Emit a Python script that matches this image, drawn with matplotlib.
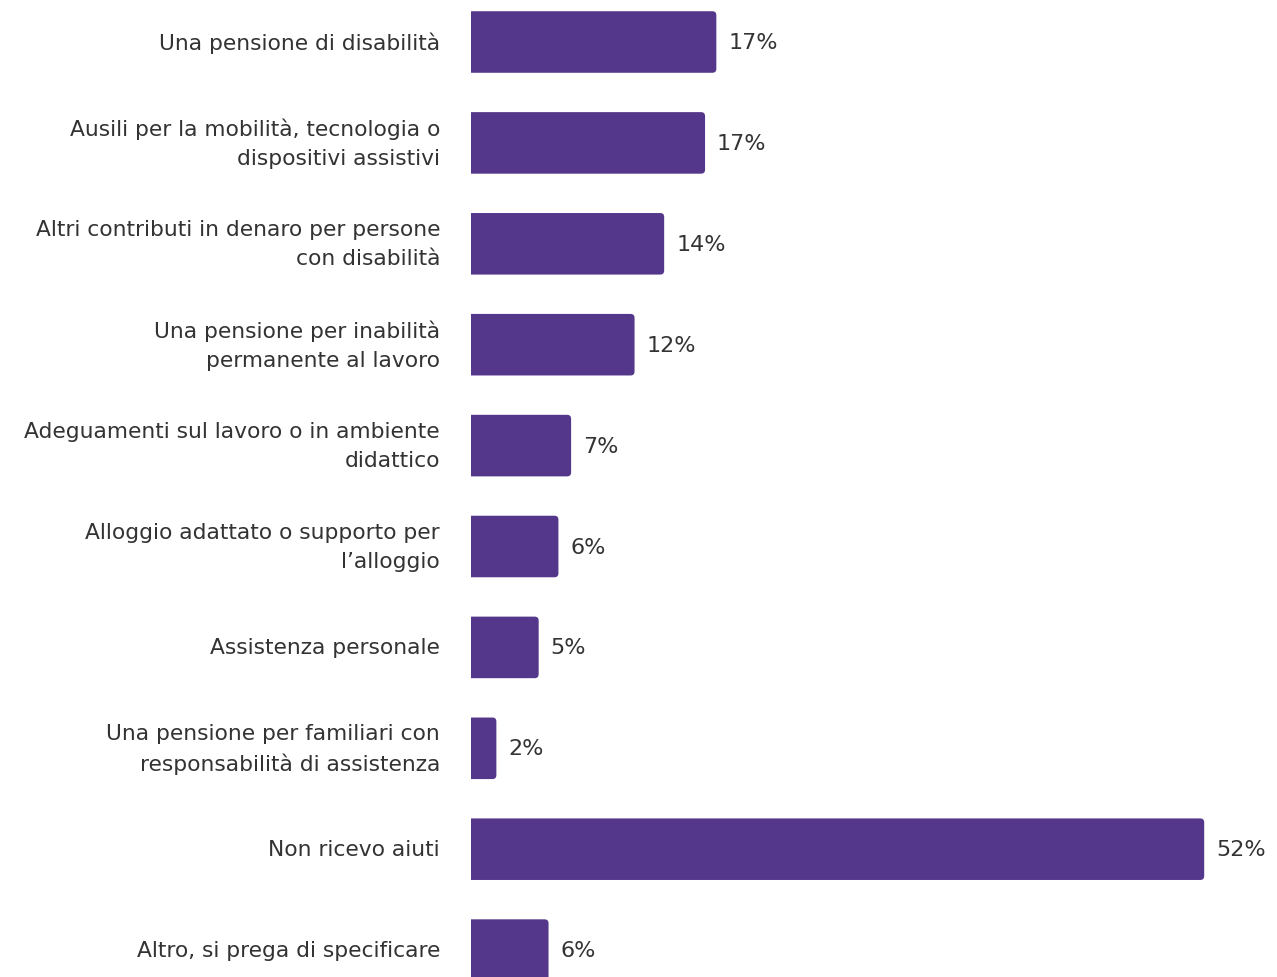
import matplotlib

matplotlib.use("Agg")
import matplotlib.pyplot as plt
from matplotlib.patches import FancyBboxPatch

categories = [
    "Una pensione di disabilità",
    "Ausili per la mobilità, tecnologia o\ndispositivi assistivi",
    "Altri contributi in denaro per persone\ncon disabilità",
    "Una pensione per inabilità\npermanente al lavoro",
    "Adeguamenti sul lavoro o in ambiente\ndidattico",
    "Alloggio adattato o supporto per\nl’alloggio",
    "Assistenza personale",
    "Una pensione per familiari con\nresponsabilità di assistenza",
    "Non ricevo aiuti",
    "Altro, si prega di specificare",
]
values = [17.4, 16.6, 13.7, 11.6, 7.1, 6.2, 4.8, 1.8, 52.0, 5.5]

BAR_COLOR = "#54378A"
TEXT_COLOR = "#333333"
W, H, DPI = 1277, 978, 100
LEFT_PX = 471
PX_PER_UNIT = 14.1
ROW_PX = 100.9
FIRST_ROW_PX = 43

fig = plt.figure(figsize=(W / DPI, H / DPI), dpi=DPI)
ax = fig.add_axes([LEFT_PX / W, 0, 1 - LEFT_PX / W, 1])

ypos = list(range(len(categories)))
bars = ax.barh(ypos, values, height=0.61, color=BAR_COLOR)

ax.set_xlim(0, (W - LEFT_PX) / PX_PER_UNIT)
ax.set_ylim((H - FIRST_ROW_PX) / ROW_PX, -FIRST_ROW_PX / ROW_PX)

# swap plain bars for ones with rounded right corners
r = 4 / PX_PER_UNIT
for b in bars:
    x, y, w, h = b.get_x(), b.get_y(), b.get_width(), b.get_height()
    patch = FancyBboxPatch(
        (x - 2, y), w + 2, h,
        boxstyle=f"round,pad=0,rounding_size={r}",
        mutation_aspect=PX_PER_UNIT / ROW_PX,
        facecolor=BAR_COLOR, edgecolor="none",
    )
    ax.add_patch(patch)
    b.set_visible(False)

for yp, v in zip(ypos, values):
    ax.annotate(f"{round(v)}%", xy=(v, yp), xytext=(8.6, 0),
                textcoords="offset points", va="center", ha="left",
                fontsize=16, color=TEXT_COLOR)

ax.set_yticks(ypos)
ax.set_yticklabels(categories, fontsize=15.7, color=TEXT_COLOR,
                   linespacing=1.55, ha="right", va="center")
ax.tick_params(axis="y", length=0, pad=22.3)
ax.set_xticks([])
for s in ax.spines.values():
    s.set_visible(False)

fig.savefig("out.png", dpi=DPI, facecolor="white")
